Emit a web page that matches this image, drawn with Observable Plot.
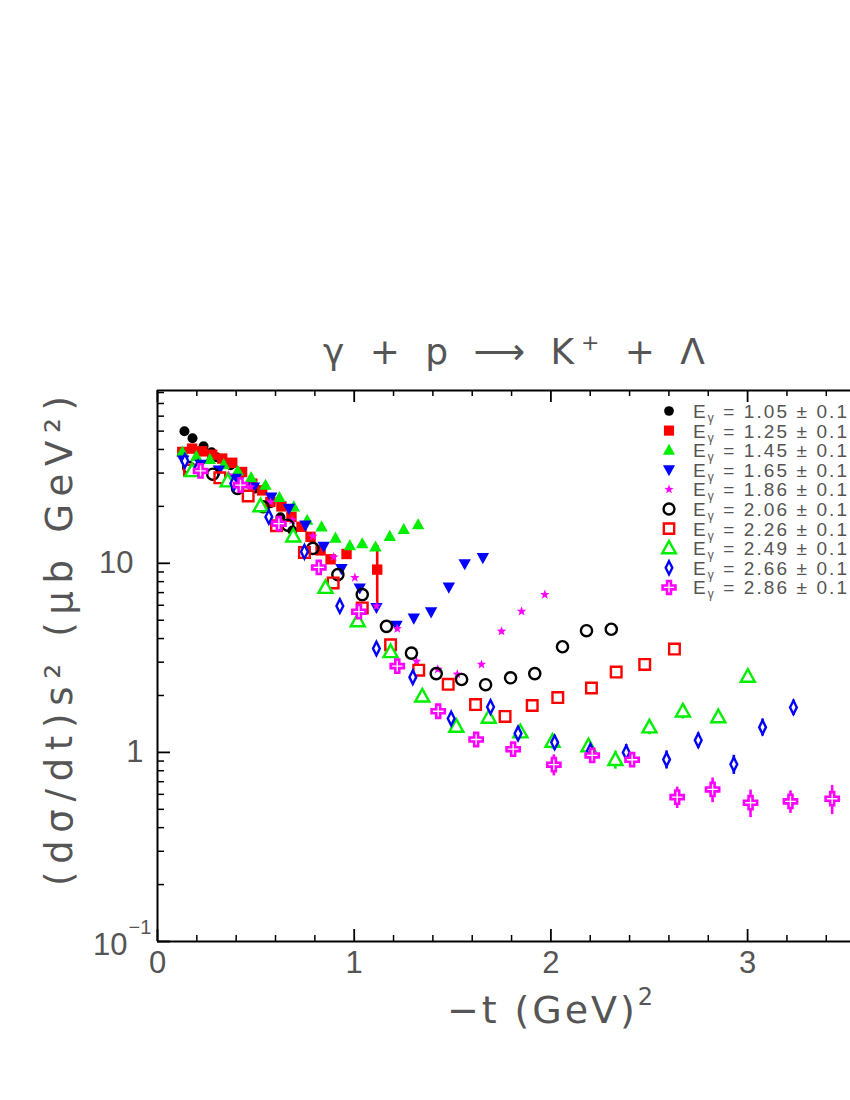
<!DOCTYPE html>
<html><head><meta charset="utf-8">
<script src="https://cdn.jsdelivr.net/npm/d3@7"></script>
<script src="https://cdn.jsdelivr.net/npm/@observablehq/plot@0.6"></script>
<style>html,body{margin:0;padding:0;background:#fff;overflow:hidden}</style>
</head><body><div id="chart"></div>
<script>
// ---- data: -t (GeV^2) and (dσ/dt)s^2 (μb GeV^2) per photon energy ----
const energies = ["1.05","1.25","1.45","1.65","1.86","2.06","2.26","2.49","2.66","2.86"];

const t105 = [0.137,0.178,0.234,0.275,0.300,0.371,0.43,0.498,0.574,0.625,0.686];
const v105 = [49.9,45.8,41.6,38.7,36.4,33.0,30.0,24.9,20.8,17.5,14.9];

const t125 = [0.126,0.176,0.227,0.278,0.329,0.380,0.430,0.482,0.532,0.574,0.630,0.681,0.732,0.778,0.829,0.880,0.961,1.117];
const v125 = [38.8,40.4,39.1,37.5,35.8,34.0,30.4,26.4,24.3,21.1,20.0,17.6,15.6,13.8,11.7,10.5,11.2,9.26];
const e125 = [0,0,0,0,0,0,0,0,0,0,0,0,0,0,0,0,0,3.2];

const t145 = [0.126,0.197,0.266,0.337,0.408,0.476,0.549,0.620,0.693,0.761,0.834,0.905,0.978,1.041,1.108,1.181,1.252,1.325];
const v145 = [38.8,36.8,35.5,33.3,30.8,28.4,25.9,22.3,19.9,16.9,15.6,13.6,12.4,12.7,12.2,13.9,15.1,16.0];

const t165 = [0.131,0.219,0.312,0.397,0.490,0.578,0.668,0.752,0.845,0.935,1.028,1.113,1.215,1.303,1.391,1.481,1.562,1.654];
const v165 = [35.1,33.3,31.1,28.1,25.3,22.4,19.5,15.9,12.3,9.37,7.40,5.83,4.70,5.13,5.53,7.47,9.94,10.7];

const t186 = [0.362,0.473,0.574,0.685,0.790,0.896,1.003,1.113,1.219,1.317,1.425,1.524,1.647,1.749,1.851,1.969];
const v186 = [29.2,25.3,21.1,16.9,13.9,10.8,8.40,5.94,4.51,3.03,2.75,2.59,2.92,4.37,5.57,6.83];

const t206 = [0.159,0.281,0.407,0.537,0.662,0.790,0.917,1.041,1.164,1.291,1.417,1.546,1.668,1.795,1.918,2.059,2.181,2.307];
const v206 = [32.1,29.6,24.9,19.9,15.9,12.0,8.71,6.83,4.64,3.35,2.61,2.43,2.28,2.48,2.61,3.62,4.40,4.48];

const t226 = [0.163,0.317,0.461,0.605,0.747,0.893,1.041,1.185,1.328,1.478,1.617,1.767,1.905,2.035,2.206,2.332,2.477,2.628];
const v226 = [31.1,28.3,22.7,15.8,11.4,7.87,5.81,3.71,2.72,2.29,1.79,1.55,1.77,1.95,2.19,2.66,2.92,3.52];

const t249 = [0.176,0.357,0.524,0.690,0.854,1.018,1.185,1.346,1.519,1.684,1.845,2.008,2.191,2.328,2.501,2.671,2.851,3.001];
const v249 = [30.8,27.2,20.1,13.9,7.44,4.95,3.40,1.98,1.37,1.53,1.28,1.14,1.08,0.915,1.36,1.65,1.54,2.52];
const e249 = [0,0,0,0,0,0,0,0.08,0.1,0.1,0.1,0.1,0.1,0.1,0.12,0.15,0.12,0.1];

const t266 = [0.139,0.207,0.388,0.566,0.747,0.927,1.113,1.298,1.493,1.693,1.833,2.019,2.201,2.383,2.588,2.749,2.930,3.076,3.233];
const v266 = [34.8,32.1,26.4,17.6,11.5,5.94,3.54,2.50,1.51,1.74,1.26,1.13,1.02,1.00,0.918,1.16,0.865,1.36,1.73];
const e266 = [0,0,0,0,0,0,0,0.12,0.1,0.1,0.1,0.1,0.1,0.1,0.1,0.11,0.1,0.14,0.16];

const t286 = [0.219,0.422,0.617,0.820,1.024,1.219,1.427,1.620,1.808,2.015,2.210,2.413,2.642,2.822,3.015,3.218,3.430];
const v286 = [30.8,25.9,16.2,9.51,5.55,2.86,1.65,1.17,1.04,0.861,0.964,0.915,0.580,0.637,0.542,0.551,0.569];
const e286 = [0,0,0,0,0,0.15,0.13,0.1,0.07,0.11,0.06,0.07,0.075,0.095,0.09,0.075,0.1];

// ---- ticks ----
const xMajor = [0,1,2,3];
const xMinor = [0.2,0.4,0.6,0.8,1.2,1.4,1.6,1.8,2.2,2.4,2.6,2.8,3.2,3.4];
const yOne = 1, yOneText = "1";
const yTen = 10, yTenText = "10";
const yLowest = 0.1, yLowestText = "10", yLowestExp = "\u22121";
const yMinor = [0.2,0.3,0.4,0.5,0.6,0.7,0.8,0.9,2,3,4,5,6,7,8,9,20,30,40,50,60,70,80];

// ---- symbols ----
function sym(fn){return {draw(c,size){const r=Math.sqrt(size/Math.PI); fn(c,r);}};}
const symCircle = sym((c,r)=>{c.moveTo(r,0); c.arc(0,0,r,0,2*Math.PI); c.closePath();});
const symSquare = sym((c,r)=>{c.moveTo(-r,-r);c.lineTo(r,-r);c.lineTo(r,r);c.lineTo(-r,r);c.closePath();});
const symTriUp = sym((c,r)=>{c.moveTo(0,-r*1.05);c.lineTo(r,r*0.75);c.lineTo(-r,r*0.75);c.closePath();});
const symTriDown = sym((c,r)=>{c.moveTo(0,r*1.05);c.lineTo(r,-r*0.75);c.lineTo(-r,-r*0.75);c.closePath();});
const symDiamond = sym((c,r)=>{c.moveTo(0,-r);c.lineTo(r*0.5,0);c.lineTo(0,r);c.lineTo(-r*0.5,0);c.closePath();});
const symCross = sym((c,r)=>{const w=r*0.3;
  c.moveTo(-w,-r);c.lineTo(w,-r);c.lineTo(w,-w);c.lineTo(r,-w);c.lineTo(r,w);c.lineTo(w,w);
  c.lineTo(w,r);c.lineTo(-w,r);c.lineTo(-w,w);c.lineTo(-r,w);c.lineTo(-r,-w);c.lineTo(-w,-w);c.closePath();});
const symStar = sym((c,r)=>{for(let i=0;i<10;i++){const a=-Math.PI/2+i*Math.PI/5; const rr=i%2?r*0.42:r;
  const x=rr*Math.cos(a), y=rr*Math.sin(a); i?c.lineTo(x,y):c.moveTo(x,y);} c.closePath();});

const series = [
  {t:t105, v:v105, e:null, symbol:symCircle,  r:5,   fill:"#000000", stroke:"none",    sw:0},
  {t:t125, v:v125, e:e125, symbol:symSquare,  r:5.2, fill:"#ff0000", stroke:"none",    sw:0},
  {t:t145, v:v145, e:null, symbol:symTriUp,   r:6.2, fill:"#00ee00", stroke:"none",    sw:0},
  {t:t165, v:v165, e:null, symbol:symTriDown, r:6.2, fill:"#0000ff", stroke:"none",    sw:0},
  {t:t186, v:v186, e:null, symbol:symStar,    r:5,   fill:"#ff00ff", stroke:"none",    sw:0},
  {t:t206, v:v206, e:null, symbol:symCircle,  r:5.6, fill:"none",    stroke:"#000000", sw:2.4},
  {t:t226, v:v226, e:null, symbol:symSquare,  r:5.3, fill:"none",    stroke:"#ff0000", sw:2.4},
  {t:t249, v:v249, e:e249, symbol:symTriUp,   r:7,   fill:"white",   stroke:"#00ee00", sw:2.4},
  {t:t266, v:v266, e:e266, symbol:symDiamond, r:6.8, fill:"white",   stroke:"#0000ff", sw:2.4},
  {t:t286, v:v286, e:e286, symbol:symCross,   r:6.6, fill:"white",   stroke:"#ff00ff", sw:2.6}
];

const yTop = 82, yBot = 0.1;
const X0 = 157, PX = 196.7;
const frameH = 941 - 390;
const TXT = "#555";

const marks = [];
// error bars
series.forEach(s => {
  if (!s.e) return;
  const rows = s.t.map((t,i)=>({t, v:s.v[i], e:s.e[i]})).filter(d=>d.e>0);
  marks.push(Plot.ruleX(rows, {x:"t", y1:d=>d.v-d.e, y2:d=>d.v+d.e,
    stroke: s.stroke!=="none"? s.stroke : s.fill, strokeWidth:2.6}));
});
// points
series.forEach(s => {
  const rows = s.t.map((t,i)=>({t, v:s.v[i]}));
  marks.push(Plot.dot(rows, {x:"t", y:"v", symbol:s.symbol, r:s.r, fill:s.fill,
    stroke:s.stroke, strokeWidth:s.sw}));
});
// frame (left, top, bottom)
marks.push(Plot.ruleX([0], {x:d=>d, stroke:"#000", strokeWidth:2}));
marks.push(Plot.ruleY([yBot, yTop], {y:d=>d, stroke:"#000", strokeWidth:2}));
// inward ticks
marks.push(Plot.ruleX(xMajor, {x:d=>d, insetTop: frameH-12, stroke:"#000", strokeWidth:1.8}));
marks.push(Plot.ruleX(xMajor, {x:d=>d, insetBottom: frameH-12, stroke:"#000", strokeWidth:1.8}));
marks.push(Plot.ruleX(xMinor, {x:d=>d, insetTop: frameH-6, stroke:"#000", strokeWidth:1.5}));
marks.push(Plot.ruleX(xMinor, {x:d=>d, insetBottom: frameH-6, stroke:"#000", strokeWidth:1.5}));
marks.push(Plot.ruleY([yLowest, yOne, yTen], {y:d=>d, insetRight: (850-X0)-13, stroke:"#000", strokeWidth:1.8}));
marks.push(Plot.ruleY(yMinor, {y:d=>d, insetRight: (850-X0)-7, stroke:"#000", strokeWidth:1.5}));
// tick labels
marks.push(Plot.text(xMajor, {x:d=>d, text:d=>String(d), frameAnchor:"bottom", dy:31,
  fontSize:31, fill:TXT}));
marks.push(Plot.text([yTen], {y:d=>d, text:[yTenText], frameAnchor:"left", dx:-24,
  textAnchor:"end", fontSize:31, fill:TXT}));
marks.push(Plot.text([yOne], {y:d=>d, text:[yOneText], frameAnchor:"left", dx:-14,
  textAnchor:"end", fontSize:31, fill:TXT}));
marks.push(Plot.text([yLowest], {y:d=>d, text:[yLowestText], frameAnchor:"left", dx:-30, dy:4,
  textAnchor:"end", fontSize:31, fill:TXT}));
marks.push(Plot.text([yLowest], {y:d=>d, text:[yLowestExp], frameAnchor:"left", dx:-29, dy:-14,
  textAnchor:"start", fontSize:20, fill:TXT}));

const svg = Plot.plot({
  width: 850, height: 1100,
  marginLeft: X0, marginRight: 0, marginTop: 390, marginBottom: 1100-941,
  x: {domain:[0, 3.6], range:[X0, X0 + 3.6*PX], axis:null},
  y: {type:"log", domain:[yBot, yTop], range:[941, 390], axis:null},
  style: {fontFamily:"Liberation Sans, DejaVu Sans, sans-serif", background:"white", overflow:"hidden"},
  marks
});

const g = d3.select(svg);
// title
const title = g.append("text").attr("x", 514).attr("y", 364).attr("text-anchor","middle")
  .attr("font-family","DejaVu Sans").attr("font-size", 36).attr("fill",TXT)
  .attr("textLength", 382).attr("lengthAdjust","spacing");
title.append("tspan").text("\u03b3 + p \u27f6 K");
title.append("tspan").attr("dy",-14).attr("font-size",22).text("+");
title.append("tspan").attr("dy",14).text(" + \u039b");

// y label
g.append("text").attr("transform","translate(72,641) rotate(-90)").attr("text-anchor","middle")
  .attr("font-family","DejaVu Sans").attr("font-size", 37).attr("fill",TXT)
  .attr("textLength", 490).attr("lengthAdjust","spacing")
  .text("(d\u03c3/dt)s\u00b2 (\u03bcb GeV\u00b2)");

// x label
const xl = g.append("text").attr("x", 447).attr("y", 1023).attr("text-anchor","start")
  .attr("font-family","DejaVu Sans").attr("font-size", 38).attr("fill",TXT)
  .attr("textLength", 206).attr("lengthAdjust","spacing");
xl.append("tspan").text("\u2212t (GeV)");
xl.append("tspan").attr("dy",-18).attr("font-size",24).text("2");

// legend
const lg = g.append("g");
series.forEach((s,i) => {
  const y = 411 + i*19.6;
  const p = d3.path(); s.symbol.draw(p, Math.PI*s.r*s.r*0.95);
  lg.append("path").attr("d", p.toString()).attr("transform", `translate(669,${y})`)
    .attr("fill", s.fill).attr("stroke", s.stroke).attr("stroke-width", s.sw);
  const tx = lg.append("text").attr("x", 693).attr("y", y+7).attr("text-anchor","start")
    .attr("font-size", 19).attr("fill",TXT)
    .attr("textLength", 154).attr("lengthAdjust","spacing");
  tx.append("tspan").text("E");
  tx.append("tspan").attr("dy",4).attr("font-size",12).text("\u03b3");
  tx.append("tspan").attr("dy",-4).text(` = ${energies[i]} \u00b1 0.1`);
});

document.getElementById("chart").appendChild(svg);
</script>
</body></html>
